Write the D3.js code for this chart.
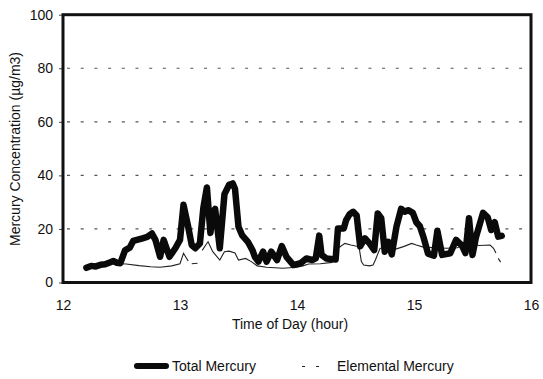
<!DOCTYPE html>
<html><head><meta charset="utf-8">
<script src="https://cdn.jsdelivr.net/npm/d3@7"></script>
<style>body{margin:0;background:#fff}svg{display:block}text{font-family:"Liberation Sans",Arial,sans-serif;fill:#111}</style>
</head><body><svg id="c" width="543" height="379"></svg>
<script>
const yTicks = [0, 20, 40, 60, 80, 100];
const xTicks = [12, 13, 14, 15, 16];
const totalTime = [12.20,12.24,12.28,12.32,12.36,12.40,12.43,12.46,12.49,12.53,12.57,12.60,12.64,12.68,12.72,12.76,12.79,12.83,12.86,12.91,12.96,13.00,13.03,13.07,13.10,13.13,13.17,13.20,13.23,13.26,13.28,13.30,13.34,13.38,13.42,13.45,13.47,13.50,13.53,13.58,13.62,13.64,13.67,13.71,13.74,13.78,13.83,13.87,13.91,13.97,14.03,14.08,14.13,14.16,14.19,14.21,14.25,14.33,14.35,14.40,14.42,14.45,14.48,14.51,14.54,14.58,14.62,14.66,14.69,14.72,14.75,14.78,14.81,14.85,14.89,14.92,14.95,14.99,15.02,15.05,15.08,15.12,15.17,15.20,15.24,15.31,15.36,15.41,15.44,15.47,15.50,15.53,15.59,15.63,15.66,15.69,15.72,15.75];
const totalMercury = [5.5,6.2,6.0,6.6,6.8,7.5,8.0,7.4,7.2,12.0,13.0,15.5,16.0,16.5,17.0,18.3,15.9,9.6,15.9,9.6,12.8,15.9,29.0,20.8,14.0,12.8,14.6,28.0,35.5,18.5,26.0,27.5,12.8,33.0,36.5,37.0,35.0,20.8,17.7,15.2,12.0,9.6,7.8,11.5,7.8,11.5,8.4,13.6,9.6,6.5,7.2,9.0,8.4,9.0,17.5,10.3,9.0,8.6,20.2,20.2,23.3,25.5,26.4,25.0,13.5,16.5,14.6,12.1,25.8,24.0,11.5,15.2,10.5,20.8,27.5,26.4,27.0,26.0,22.5,21.0,17.1,10.8,10.0,19.3,10.3,10.9,15.9,13.8,11.0,24.0,10.3,17.0,26.0,24.3,19.6,22.5,17.1,17.4];
const elemTime = [12.20,12.30,12.40,12.49,12.54,12.65,12.75,12.83,12.93,13.00,13.03,13.07,13.085,13.10,13.15,13.17,13.19,13.22,13.24,13.28,13.34,13.38,13.42,13.47,13.50,13.56,13.61,13.66,13.74,13.88,14.00,14.05,14.10,14.20,14.30,14.35,14.41,14.46,14.50,14.53,14.55,14.57,14.62,14.65,14.67,14.71,14.78,14.83,14.91,14.98,15.02,15.08,15.18,15.28,15.37,15.45,15.56,15.65,15.68,15.70,15.71,15.72,15.74];
const elementalMercury = [5.5,6.2,7.0,7.0,6.9,6.3,5.9,5.7,6.2,7.0,10.9,8.0,null,7.0,7.2,null,12.0,14.0,15.2,11.5,8.4,11.5,11.7,11.0,8.4,9.0,7.8,6.2,5.7,5.3,5.7,6.2,6.9,7.0,7.5,12.8,14.6,14.0,13.6,13.4,7.8,6.5,6.2,6.5,8.4,12.8,12.8,12.3,13.4,14.6,14.0,13.2,13.0,12.8,13.0,14.5,13.8,14.0,12.8,11.0,null,9.0,7.6];
const seriesNames = ["Total Mercury", "Elemental Mercury"];

const svg = d3.select("#c");
const L = 63, R = 531, T = 14.7, B = 282.5;
const x = d3.scaleLinear().domain([12, 16]).range([L, R]);
const y = d3.scaleLinear().domain([0, 100]).range([B, T]);

// gridlines
svg.append("g").selectAll("line").data(yTicks.filter(v => v > 0 && v < 100)).join("line")
  .attr("x1", L + 4).attr("x2", R).attr("y1", d => y(d)).attr("y2", d => y(d))
  .attr("stroke", "#555").attr("stroke-width", 1.2).attr("stroke-dasharray", "3,10.7");

// y axis
const yAxis = d3.axisLeft(y).tickValues(yTicks).tickSize(4).tickPadding(6).tickFormat(d3.format("d"));
const gy = svg.append("g").attr("transform", `translate(${L},0)`).call(yAxis);
gy.select(".domain").remove();
gy.selectAll("line").attr("stroke", "#444");
gy.selectAll("text").attr("font-size", 14).attr("font-family", "Liberation Sans, Arial, sans-serif").attr("fill", "#111");

// x axis
const xAxis = d3.axisBottom(x).tickValues(xTicks).tickSize(0).tickPadding(18).tickFormat(d3.format("d"));
const gx = svg.append("g").attr("transform", `translate(0,${B})`).call(xAxis);
gx.select(".domain").remove();
gx.selectAll("text").attr("font-size", 14).attr("font-family", "Liberation Sans, Arial, sans-serif").attr("fill", "#111");

// elemental line
const elemData = elemTime.map((t, i) => [t, elementalMercury[i]]);
svg.append("path").datum(elemData)
  .attr("d", d3.line().defined(d => d[1] !== null).x(d => x(d[0])).y(d => y(d[1])))
  .attr("fill", "none").attr("stroke", "#222").attr("stroke-width", 1.1);

// total line
const totData = totalTime.map((t, i) => [t, totalMercury[i]]);
svg.append("path").datum(totData)
  .attr("d", d3.line().x(d => x(d[0])).y(d => y(d[1])))
  .attr("fill", "none").attr("stroke", "#0a0a0a").attr("stroke-width", 6.5)
  .attr("stroke-linejoin", "round").attr("stroke-linecap", "round");

// frame
svg.append("rect").attr("x", L).attr("y", T).attr("width", R - L).attr("height", B - T)
  .attr("fill", "none").attr("stroke", "#111").attr("stroke-width", 3);

// titles
svg.append("text").attr("x", 290).attr("y", 329).attr("text-anchor", "middle")
  .attr("font-size", 14).text("Time of Day (hour)");
svg.append("text").attr("transform", "translate(20,149) rotate(-90)").attr("text-anchor", "middle")
  .attr("font-size", 14).text("Mercury Concentration (µg/m3)");

// legend
const lg = svg.append("g");
lg.append("line").attr("x1", 137).attr("x2", 166).attr("y1", 366).attr("y2", 366)
  .attr("stroke", "#0a0a0a").attr("stroke-width", 6).attr("stroke-linecap", "round");
lg.append("text").attr("x", 172).attr("y", 371).attr("font-size", 14).text(seriesNames[0]);
lg.append("line").attr("x1", 302).attr("x2", 320).attr("y1", 366.5).attr("y2", 366.5)
  .attr("stroke", "#222").attr("stroke-width", 1.1).attr("stroke-dasharray", "3,11");
lg.append("text").attr("x", 337).attr("y", 371).attr("font-size", 14).text(seriesNames[1]);
</script></body></html>
